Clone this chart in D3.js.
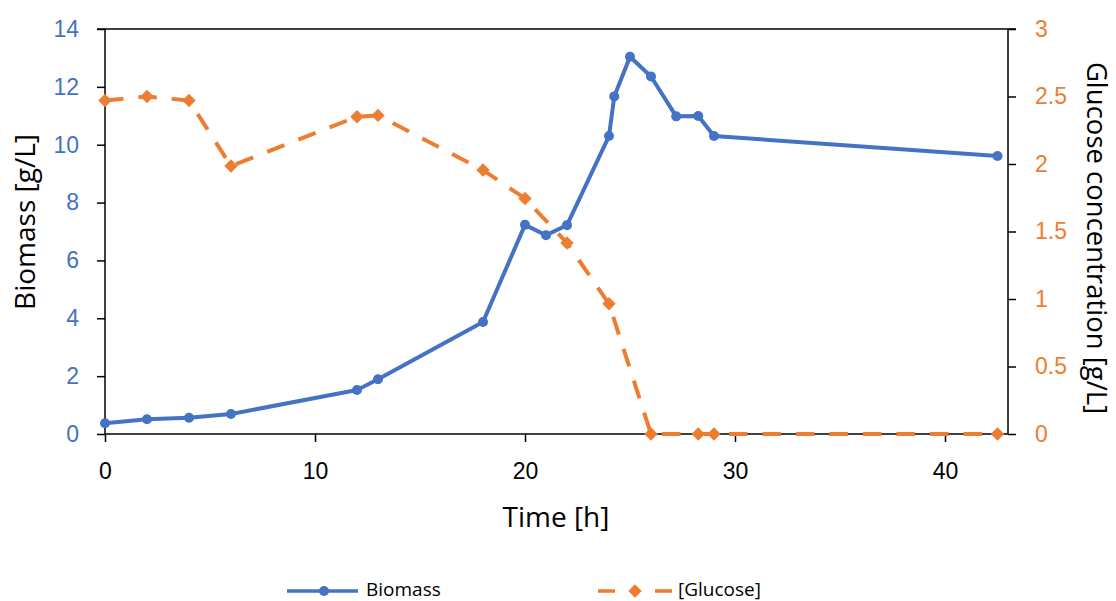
<!DOCTYPE html>
<html>
<head>
<meta charset="utf-8">
<script src="https://cdn.jsdelivr.net/npm/d3@7"></script>
<style>
  html, body { margin: 0; padding: 0; background: #fff; }
  svg { display: block; font-family: "Open Sans", "Noto Sans", sans-serif; }
</style>
</head>
<body>
<svg id="chart" width="1116" height="601"></svg>
<script>
// Fermentation time course: biomass (left axis) and residual glucose (right axis)
const biomassTime = [0, 2, 4, 6, 12, 13, 18, 20, 21, 22, 24, 24.25, 25, 26, 27.2, 28.25, 29, 42.5];
const biomassValues = [0.37, 0.51, 0.56, 0.69, 1.52, 1.89, 3.87, 7.23, 6.87, 7.22, 10.3, 11.67, 13.04, 12.36, 10.98, 10.99, 10.3, 9.61];

const glucoseTime = [0, 2, 4, 6, 12, 13, 18, 20, 22, 24, 26, 28.25, 29, 42.5];
const glucoseValues = [2.47, 2.5, 2.47, 1.985, 2.35, 2.36, 1.955, 1.745, 1.415, 0.965, 0, 0, 0, 0];

const timeTicks = [0, 10, 20, 30, 40];
const biomassTicks = [0, 2, 4, 6, 8, 10, 12, 14];
const glucoseTicks = [0, 0.5, 1, 1.5, 2, 2.5, 3];

const blue = "#4472C4";
const orange = "#ED7D31";

const svg = d3.select("#chart");
const plotLeft = 105, plotRight = 1008, plotTop = 29, plotBottom = 434;

const x = d3.scaleLinear().domain([0, 43]).range([plotLeft, plotRight]);
const yL = d3.scaleLinear().domain([0, 14]).range([plotBottom, plotTop]);
const yR = d3.scaleLinear().domain([0, 3]).range([plotBottom, plotTop]);

// top frame line
svg.append("line")
  .attr("x1", plotLeft - 8).attr("x2", plotRight + 8)
  .attr("y1", plotTop).attr("y2", plotTop)
  .attr("stroke", "#000").attr("stroke-width", 1.5);

// left axis
const axL = svg.append("g").attr("transform", `translate(${plotLeft},0)`)
  .call(d3.axisLeft(yL).tickValues(biomassTicks).tickSize(8).tickPadding(18).tickFormat(d3.format("d")));
axL.selectAll("text").attr("fill", blue).style("font-size", "23px");

// right axis
const axR = svg.append("g").attr("transform", `translate(${plotRight},0)`)
  .call(d3.axisRight(yR).tickValues(glucoseTicks).tickSize(8).tickPadding(19).tickFormat(d => String(d)));
axR.selectAll("text").attr("fill", orange).style("font-size", "23px");

// bottom axis
const axB = svg.append("g").attr("transform", `translate(0,${plotBottom})`)
  .call(d3.axisBottom(x).tickValues(timeTicks).tickSize(8).tickPadding(21).tickFormat(d3.format("d")));
axB.selectAll("text").attr("fill", "#000").style("font-size", "23px");

[axL, axR, axB].forEach(g => {
  g.select(".domain").attr("stroke", "#000").attr("stroke-width", 1.5);
  g.selectAll(".tick line").attr("stroke", "#000").attr("stroke-width", 1.5);
});
axL.select(".domain").attr("d", `M0,${plotBottom}V${plotTop}`);
axR.select(".domain").attr("d", `M0,${plotBottom}V${plotTop}`);
axB.select(".domain").attr("d", `M${plotLeft},0H${plotRight}`);

// axis titles
svg.append("text")
  .attr("transform", "translate(35,222) rotate(-90)")
  .attr("text-anchor", "middle")
  .style("font-size", "28px").attr("fill", "#000")
  .text("Biomass [g/L]");

svg.append("text")
  .attr("transform", "translate(1087,238) rotate(90)")
  .attr("text-anchor", "middle")
  .style("font-size", "27.5px").attr("fill", "#000")
  .text("Glucose concentration [g/L]");

svg.append("text")
  .attr("x", 556).attr("y", 527)
  .attr("text-anchor", "middle")
  .style("font-size", "28px").attr("fill", "#000")
  .text("Time [h]");

// glucose series
const glucose = glucoseTime.map((t, i) => [t, glucoseValues[i]]);
const gLine = d3.line().x(d => x(d[0])).y(d => yR(d[1]));
svg.append("path")
  .datum(glucose)
  .attr("d", gLine)
  .attr("fill", "none")
  .attr("stroke", orange)
  .attr("stroke-width", 4)
  .attr("stroke-dasharray", "18.5,15")
  .attr("stroke-linejoin", "round");

const diamond = d3.symbol().type(d3.symbolSquare).size(90);
svg.append("g").selectAll("path")
  .data(glucose)
  .join("path")
  .attr("d", diamond)
  .attr("transform", d => `translate(${x(d[0])},${yR(d[1])}) rotate(45)`)
  .attr("fill", orange);

// biomass series
const biomass = biomassTime.map((t, i) => [t, biomassValues[i]]);
const bLine = d3.line().x(d => x(d[0])).y(d => yL(d[1]));
svg.append("path")
  .datum(biomass)
  .attr("d", bLine)
  .attr("fill", "none")
  .attr("stroke", blue)
  .attr("stroke-width", 4)
  .attr("stroke-linejoin", "round");

svg.append("g").selectAll("circle")
  .data(biomass)
  .join("circle")
  .attr("cx", d => x(d[0]))
  .attr("cy", d => yL(d[1]))
  .attr("r", 5)
  .attr("fill", blue);

// legend
const legY = 591;
const lg = svg.append("g");
lg.append("line").attr("x1", 287).attr("x2", 358).attr("y1", legY).attr("y2", legY)
  .attr("stroke", blue).attr("stroke-width", 3.5);
lg.append("circle").attr("cx", 324).attr("cy", legY).attr("r", 5).attr("fill", blue);
lg.append("text").attr("x", 366).attr("y", legY + 5).style("font-size", "19px").text("Biomass");

lg.append("line").attr("x1", 598).attr("x2", 615).attr("y1", legY).attr("y2", legY)
  .attr("stroke", orange).attr("stroke-width", 3.5);
lg.append("line").attr("x1", 655).attr("x2", 672).attr("y1", legY).attr("y2", legY)
  .attr("stroke", orange).attr("stroke-width", 3.5);
lg.append("path").attr("d", diamond)
  .attr("transform", `translate(635,${legY}) rotate(45)`).attr("fill", orange);
lg.append("text").attr("x", 678).attr("y", legY + 5).style("font-size", "19px").text("[Glucose]");
</script>
</body>
</html>
